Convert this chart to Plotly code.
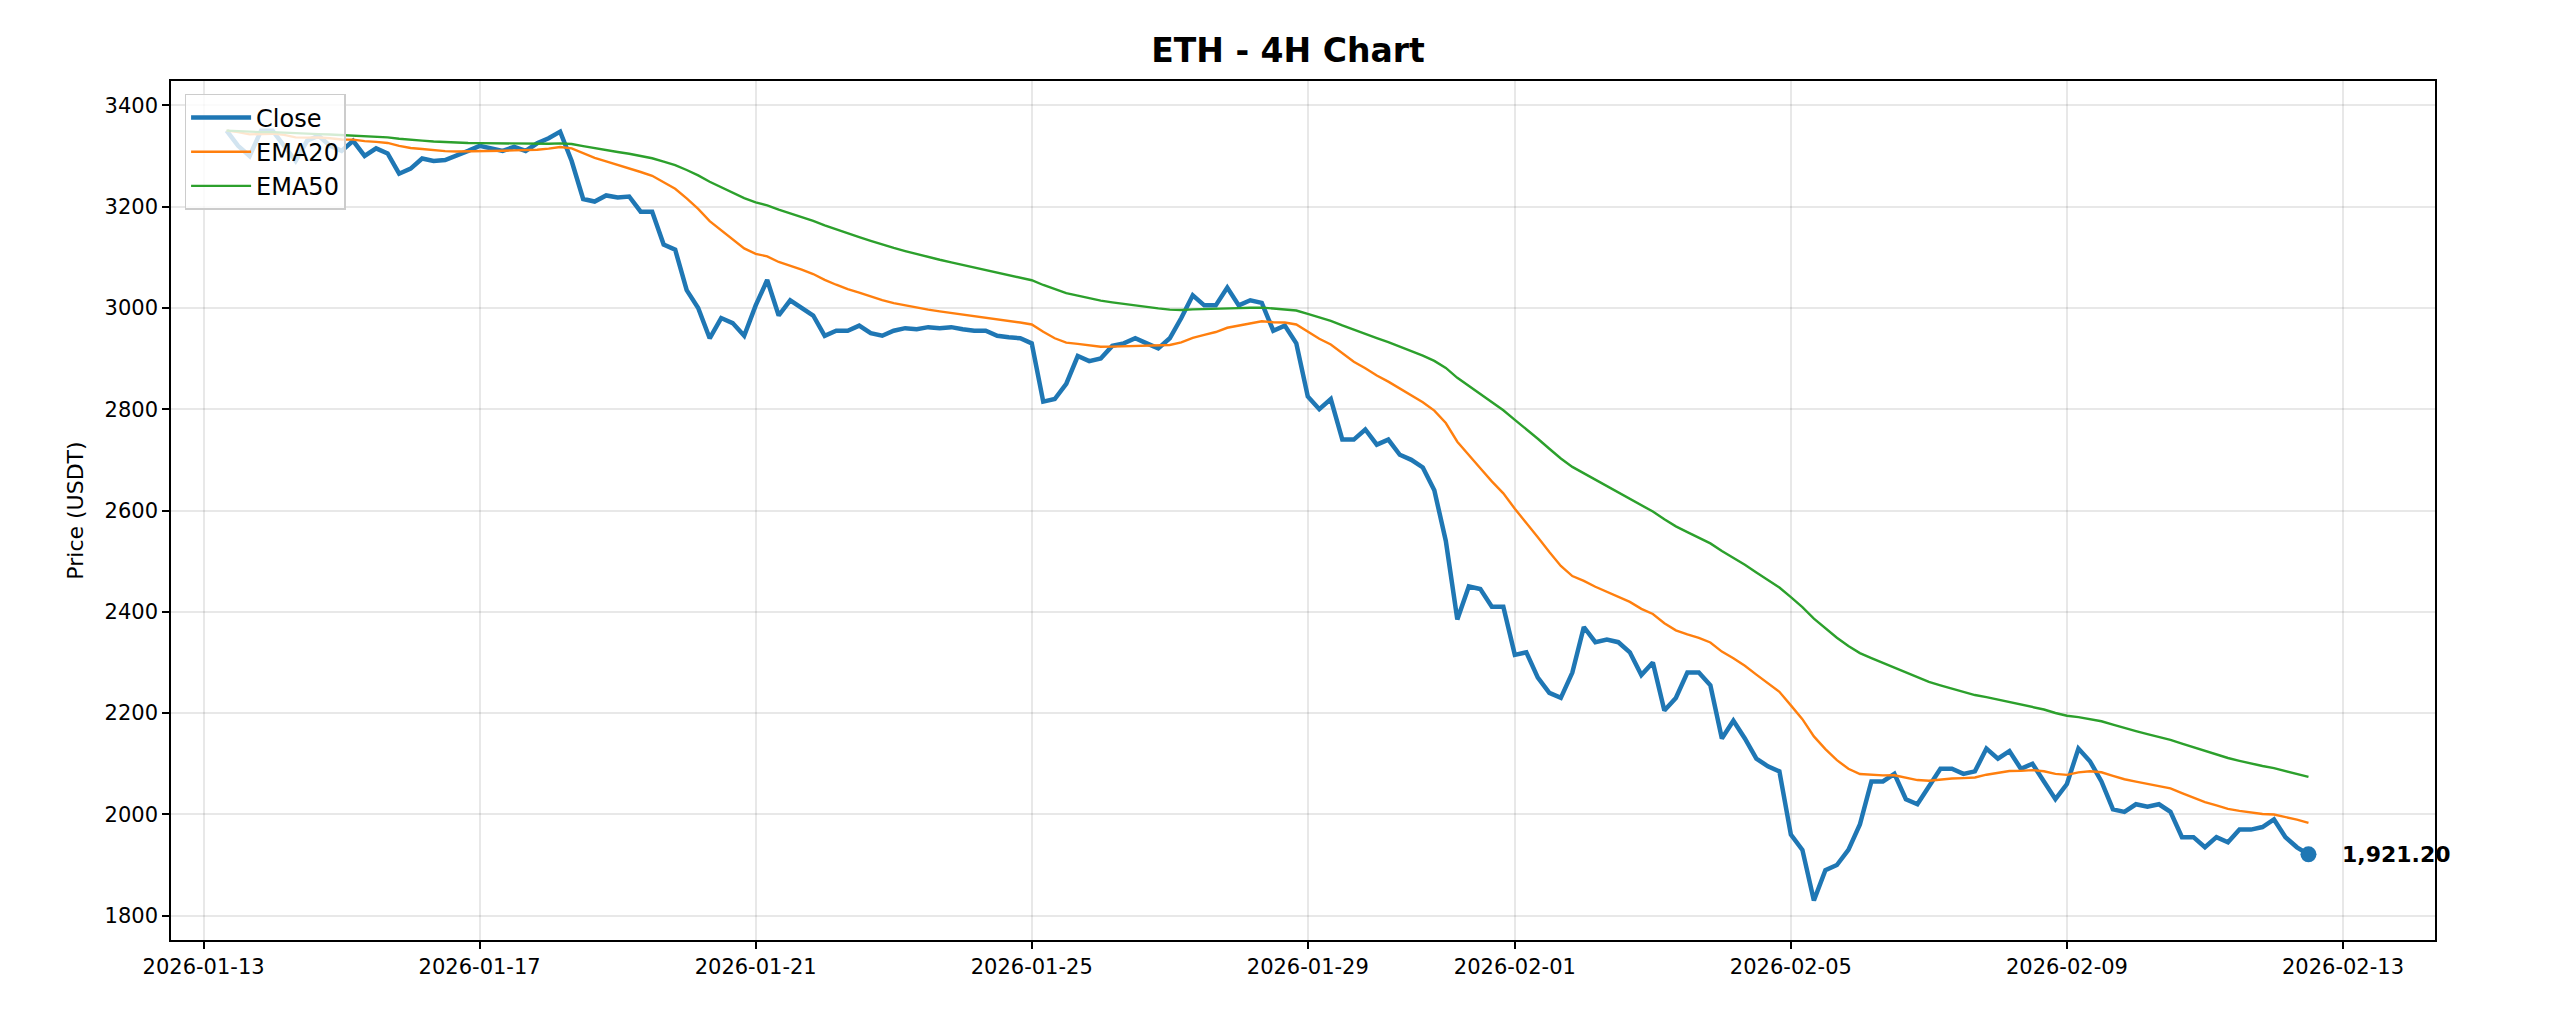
import pandas as pd
import plotly.graph_objects as go

start = "2026-01-13 08:00"
close = [
    3350, 3320, 3300, 3350,
    3350, 3320, 3290, 3330, 3340, 3320,
    3310, 3330, 3300, 3315, 3305, 3265,
    3275, 3295, 3290, 3292, 3300, 3310,
    3320, 3315, 3310, 3318, 3310, 3325,
    3335, 3348, 3290, 3215, 3210, 3222,
    3218, 3220, 3190, 3190, 3125, 3115,
    3035, 3000, 2940, 2980, 2970, 2945,
    3005, 3055, 2985, 3015, 3000, 2985,
    2945, 2955, 2955, 2965, 2950, 2945,
    2955, 2960, 2958, 2962, 2960, 2962,
    2958, 2955, 2955, 2945, 2942, 2940,
    2930, 2815, 2820, 2850, 2905, 2895,
    2900, 2925, 2930, 2940, 2930, 2920,
    2940, 2980, 3025, 3005, 3005, 3040,
    3005, 3015, 3010, 2955, 2965, 2930,
    2825, 2800, 2820, 2740, 2740, 2760,
    2730, 2740, 2710, 2700, 2685, 2640,
    2540, 2385, 2450, 2445, 2410, 2410,
    2315, 2320, 2270, 2240, 2230, 2280,
    2370, 2340, 2345, 2340, 2320, 2275,
    2300, 2205, 2230, 2280, 2280, 2255,
    2150, 2185, 2150, 2110, 2095, 2085,
    1960, 1930, 1830, 1890, 1900, 1930,
    1980, 2065, 2065, 2080, 2030, 2020,
    2055, 2090, 2090, 2080, 2085, 2130,
    2110, 2125, 2090, 2100, 2065, 2030,
    2060, 2130, 2105, 2065, 2010, 2005,
    2020, 2015, 2020, 2005, 1955, 1955,
    1935, 1955, 1945, 1970, 1970, 1975,
    1990, 1955, 1935, 1921.20,
]
tick_vals = ["2026-01-13", "2026-01-17", "2026-01-21", "2026-01-25", "2026-01-29",
             "2026-02-01", "2026-02-05", "2026-02-09", "2026-02-13"]

dates = pd.date_range(start, periods=len(close), freq="4h")
s = pd.Series(close, index=dates)
ema20 = s.ewm(span=20, adjust=False).mean()
ema50 = s.ewm(span=50, adjust=False).mean()

fig = go.Figure()
fig.add_trace(go.Scatter(x=dates, y=s, name="Close", mode="lines",
                         line=dict(color="#1f77b4", width=4.5)))
fig.add_trace(go.Scatter(x=dates, y=ema20, name="EMA20", mode="lines",
                         line=dict(color="#ff7f0e", width=2.4)))
fig.add_trace(go.Scatter(x=dates, y=ema50, name="EMA50", mode="lines",
                         line=dict(color="#2ca02c", width=2.4)))
fig.add_trace(go.Scatter(x=[dates[-1]], y=[close[-1]], mode="markers", showlegend=False,
                         marker=dict(color="#1f77b4", size=16)))
fig.add_annotation(x=dates[-1], y=close[-1], text="<b>%s</b>" % f"{close[-1]:,.2f}",
                   showarrow=False, xanchor="left", xshift=32,
                   font=dict(size=22, color="black"))

axis = dict(showline=True, linecolor="black", linewidth=1.6, mirror=True,
            ticks="outside", ticklen=7, tickwidth=1.5, tickcolor="black",
            showgrid=True, gridcolor="rgba(0,0,0,0.09)", gridwidth=1.5,
            zeroline=False, tickfont=dict(size=21, color="black"))
fig.update_layout(
    width=2560, height=1024, paper_bgcolor="white", plot_bgcolor="white",
    font=dict(family="DejaVu Sans", color="black"),
    title=dict(text="<b>ETH - 4H Chart</b>", x=0.5, xanchor="center", y=0.97,
               font=dict(size=33)),
    margin=dict(l=163, r=133, t=73, b=92),
    legend=dict(x=0.006, y=0.985, xanchor="left", yanchor="top",
                bgcolor="rgba(255,255,255,0.8)", bordercolor="#cccccc", borderwidth=1.5,
                font=dict(size=24), itemwidth=60),
    xaxis=dict(axis, range=["2026-01-12 12:40", "2026-02-14 08:00"],
               tickvals=tick_vals, tickformat="%Y-%m-%d"),
    yaxis=dict(axis, range=[1752, 3448], dtick=200,
               title=dict(text="Price (USDT)", font=dict(size=22))),
)
fig.write_html("out.html")
